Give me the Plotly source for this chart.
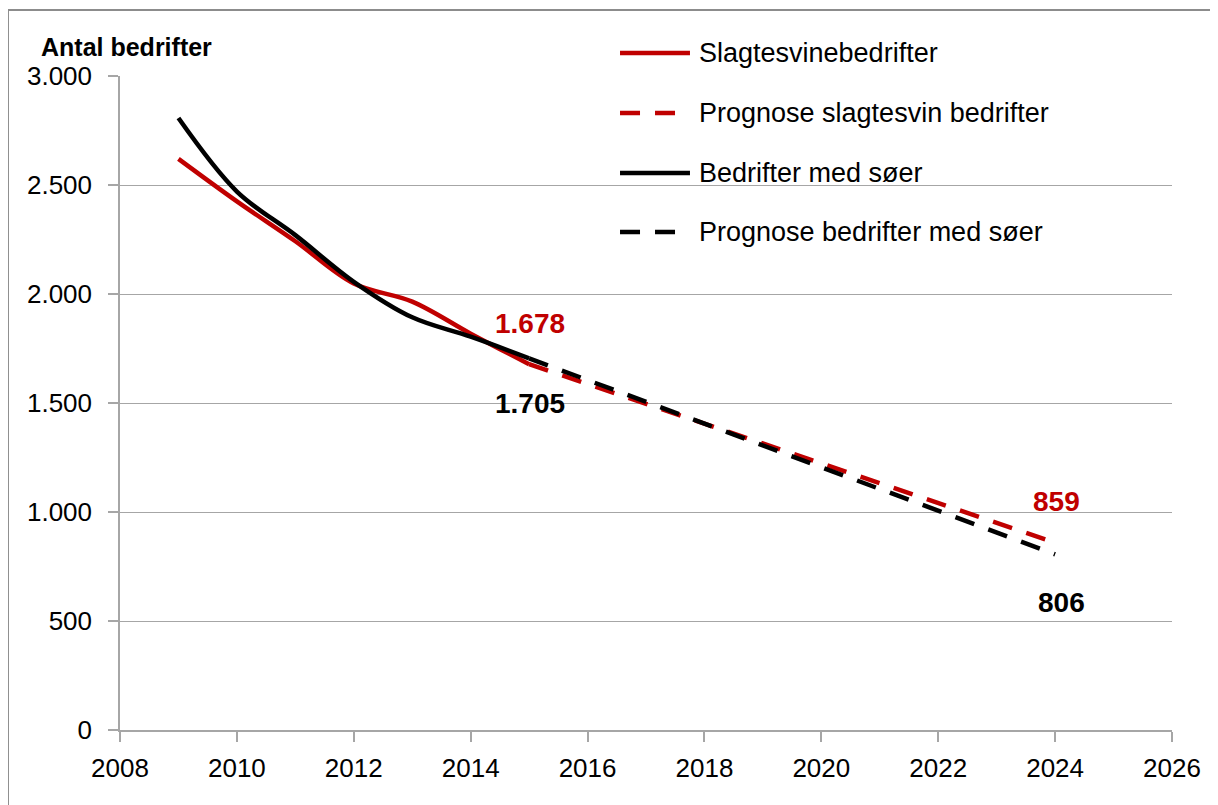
import plotly.graph_objects as go

# ---- data ----
years_hist = [2009, 2010, 2011, 2012, 2013, 2014, 2015]
slagtesvin = [2620, 2425, 2242, 2048, 1965, 1818, 1678]
soeer = [2807, 2470, 2270, 2056, 1893, 1804, 1705]

years_prog = [2015, 2024]
prog_slagtesvin = [1678, 859]
prog_soeer = [1705, 806]

y_tickvals = [0, 500, 1000, 1500, 2000, 2500, 3000]
y_ticktext = ["0", "500", "1.000", "1.500", "2.000", "2.500", "3.000"]
x_tickvals = [2008, 2010, 2012, 2014, 2016, 2018, 2020, 2022, 2024, 2026]

legend_names = ["Slagtesvinebedrifter", "Prognose slagtesvin bedrifter",
                "Bedrifter med søer", "Prognose bedrifter med søer"]

RED = "#c00000"
BLACK = "#000000"
GRID = "#a6a6a6"
FONT = "Liberation Sans, Arial, sans-serif"
DASH = "20px,15px"

fig = go.Figure()
fig.add_trace(go.Scatter(x=years_hist, y=slagtesvin, mode="lines",
                         line=dict(color=RED, width=4.5, shape="spline"),
                         showlegend=False))
fig.add_trace(go.Scatter(x=years_hist, y=soeer, mode="lines",
                         line=dict(color=BLACK, width=4.5, shape="spline"),
                         showlegend=False))
fig.add_trace(go.Scatter(x=years_prog, y=prog_slagtesvin, mode="lines",
                         line=dict(color=RED, width=4.5, dash=DASH),
                         showlegend=False))
fig.add_trace(go.Scatter(x=years_prog, y=prog_soeer, mode="lines",
                         line=dict(color=BLACK, width=4.5, dash=DASH),
                         showlegend=False))

annotations = []
# value labels
annotations.append(dict(x=years_hist[-1], y=slagtesvin[-1], text="<b>1.678</b>",
                        showarrow=False, yshift=41, xshift=1,
                        font=dict(color=RED, size=28, family=FONT)))
annotations.append(dict(x=years_hist[-1], y=soeer[-1], text="<b>1.705</b>",
                        showarrow=False, yshift=-45, xshift=1,
                        font=dict(color=BLACK, size=28, family=FONT)))
annotations.append(dict(x=years_prog[-1], y=prog_slagtesvin[-1], text="<b>859</b>",
                        showarrow=False, yshift=41, xshift=1,
                        font=dict(color=RED, size=28, family=FONT)))
annotations.append(dict(x=years_prog[-1], y=prog_soeer[-1], text="<b>806</b>",
                        showarrow=False, yshift=-48, xshift=6,
                        font=dict(color=BLACK, size=28, family=FONT)))
# axis title
annotations.append(dict(xref="paper", yref="paper", x=-0.077, y=1.0443,
                        xanchor="left", yanchor="middle", showarrow=False,
                        text="<b>Antal bedrifter</b>",
                        font=dict(color=BLACK, size=25, family=FONT)))

# manual legend
leg_y = [1.0352, 0.9434, 0.8517, 0.7615]
leg_colors = [RED, RED, BLACK, BLACK]
leg_dash = ["solid", DASH, "solid", DASH]
shapes = []
for name, yy, c, d in zip(legend_names, leg_y, leg_colors, leg_dash):
    shapes.append(dict(type="line", xref="paper", yref="paper",
                       x0=0.4753, x1=0.5418, y0=yy, y1=yy,
                       line=dict(color=c, width=4.5, dash=d)))
    annotations.append(dict(xref="paper", yref="paper", x=0.5485, y=yy,
                            xanchor="left", yanchor="middle", showarrow=False,
                            text=name, font=dict(color=BLACK, size=27, family=FONT)))

# outer border (top and left edges; the rest lies outside the picture)
shapes.append(dict(type="line", xref="paper", yref="paper",
                   x0=-0.1065, x1=1.2, y0=1.1009, y1=1.1009,
                   line=dict(color="#8c8c8c", width=2), layer="below"))
shapes.append(dict(type="line", xref="paper", yref="paper",
                   x0=-0.1065, x1=-0.1065, y0=-0.3, y1=1.1009,
                   line=dict(color="#8c8c8c", width=2), layer="below"))

fig.update_layout(
    width=1210, height=797,
    margin=dict(l=112, r=46, t=68, b=75, pad=0),
    paper_bgcolor="white", plot_bgcolor="white",
    font=dict(family=FONT, size=26, color="black"),
    showlegend=False,
    annotations=annotations,
    shapes=shapes,
    xaxis=dict(range=[2008, 2026], tickvals=x_tickvals,
               ticktext=[str(v) for v in x_tickvals],
               showgrid=False, zeroline=False,
               showline=True, linecolor=GRID, linewidth=1.5,
               ticks="outside", ticklen=10, tickcolor=GRID, tickwidth=1.5,
               ticklabelstandoff=4,
               tickfont=dict(size=26, family=FONT, color="black")),
    yaxis=dict(range=[0, 3000], tickvals=y_tickvals, ticktext=y_ticktext,
               showgrid=True, gridcolor=GRID, gridwidth=1.3, zeroline=False,
               showline=True, linecolor=GRID, linewidth=1.5,
               ticks="outside", ticklen=10, tickcolor=GRID, tickwidth=1.5,
               ticklabelstandoff=11,
               tickfont=dict(size=26, family=FONT, color="black")),
)

fig.write_html("out.html")
